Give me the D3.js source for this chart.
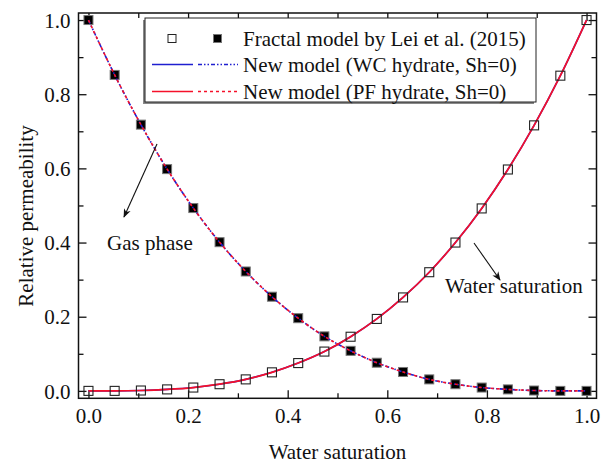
<!DOCTYPE html>
<html>
<head>
<meta charset="utf-8">
<script src="https://cdn.jsdelivr.net/npm/d3@7"></script>
<style>
  body { margin: 0; background: #fff; }
</style>
</head>
<body>
<svg id="chart" width="608" height="463"></svg>
<script>
// water saturation at the sampled points
var sw = [0, 0.0526, 0.1053, 0.1579, 0.2105, 0.2632, 0.3158, 0.3684, 0.4211, 0.4737,
          0.5263, 0.5789, 0.6316, 0.6842, 0.7368, 0.7895, 0.8421, 0.8947, 0.9474, 1.0];

// fractal model (Lei et al. 2015)
var krwFractal = [0.0, 0.0, 0.001, 0.004, 0.009, 0.018, 0.031, 0.050, 0.075, 0.106,
                  0.146, 0.194, 0.252, 0.320, 0.400, 0.492, 0.597, 0.716, 0.850, 1.0];
var krgFractal = [1.0, 0.852, 0.718, 0.598, 0.493, 0.401, 0.322, 0.254, 0.196, 0.147,
                  0.108, 0.076, 0.051, 0.031, 0.018, 0.009, 0.004, 0.001, 0.0, 0.0];

// new model, WC hydrate
var krwWC = [0.0, 0.0, 0.001, 0.004, 0.009, 0.018, 0.031, 0.050, 0.075, 0.106,
             0.146, 0.194, 0.252, 0.320, 0.400, 0.492, 0.597, 0.716, 0.850, 1.0];
var krgWC = [1.0, 0.852, 0.718, 0.598, 0.493, 0.401, 0.322, 0.254, 0.196, 0.147,
             0.108, 0.076, 0.051, 0.031, 0.018, 0.009, 0.004, 0.001, 0.0, 0.0];

// new model, PF hydrate
var krwPF = [0.0, 0.0, 0.001, 0.004, 0.009, 0.018, 0.031, 0.050, 0.075, 0.106,
             0.146, 0.194, 0.252, 0.320, 0.400, 0.492, 0.597, 0.716, 0.850, 1.0];
var krgPF = [1.0, 0.852, 0.718, 0.598, 0.493, 0.401, 0.322, 0.254, 0.196, 0.147,
             0.108, 0.076, 0.051, 0.031, 0.018, 0.009, 0.004, 0.001, 0.0, 0.0];

var majorTicks = [0, 0.2, 0.4, 0.6, 0.8, 1.0];
var minorTicks = [0.1, 0.3, 0.5, 0.7, 0.9];
var legendLabels = ['Fractal model by Lei et al. (2015)',
                    'New model (WC hydrate, Sh=0)',
                    'New model (PF hydrate, Sh=0)'];

var FONT = "'Liberation Serif', 'Times New Roman', serif";
var FS = 21;
var dims = { left: 78.5, right: 596.5, top: 13, bottom: 398.3 };

var svg = d3.select('#chart');
var x = d3.scaleLinear().domain([-0.02, 1.02]).range([dims.left, dims.right]);
var y = d3.scaleLinear().domain([-0.02, 1.019]).range([dims.bottom, dims.top]);

var fmt = d3.format('.1f');

function txt(sel) {
  return sel.style('font-family', FONT).style('font-size', FS + 'px').attr('fill', '#111');
}

// axes: inward ticks on all four sides, labels on bottom and left only
function addAxis(axisFn, transform, labels) {
  var scale = (axisFn === d3.axisBottom || axisFn === d3.axisTop) ? x : y;
  var major = svg.append('g').attr('transform', transform)
    .call(axisFn(scale).tickValues(majorTicks).tickSize(-8).tickPadding(10)
      .tickFormat(labels ? fmt : ''));
  var minor = svg.append('g').attr('transform', transform)
    .call(axisFn(scale).tickValues(minorTicks).tickSize(-5).tickFormat(''));
  [major, minor].forEach(function(g) {
    g.attr('font-family', null).attr('font-size', null);
    g.select('.domain').remove();
    g.selectAll('line').attr('stroke', '#111').attr('stroke-width', 1.3);
    txt(g.selectAll('text'));
  });
  return major;
}
addAxis(d3.axisBottom, 'translate(0,' + dims.bottom + ')', true);
addAxis(d3.axisTop, 'translate(0,' + dims.top + ')', false);
var yl = addAxis(d3.axisLeft, 'translate(' + dims.left + ',0)', true);
yl.selectAll('text').attr('dy', '0.34em').attr('x', -8);
addAxis(d3.axisRight, 'translate(' + dims.right + ',0)', false);

svg.append('rect')
  .attr('x', dims.left).attr('y', dims.top)
  .attr('width', dims.right - dims.left).attr('height', dims.bottom - dims.top)
  .attr('fill', 'none').attr('stroke', '#111').attr('stroke-width', 1.5);

// curves
function lineOf(vals) {
  return d3.line()
    .x(function(d, i) { return x(sw[i]); })
    .y(function(d) { return y(d); })
    .curve(d3.curveMonotoneX)(vals);
}

svg.append('path').attr('d', lineOf(krwWC))
  .attr('fill', 'none').attr('stroke', '#1f1fd0').attr('stroke-width', 1.6);
svg.append('path').attr('d', lineOf(krwPF))
  .attr('fill', 'none').attr('stroke', '#f5102a').attr('stroke-width', 1.7);

// markers
var pts = svg.append('g');
pts.selectAll('.krw').data(krwFractal).enter().append('rect')
  .attr('x', function(d, i) { return x(sw[i]) - 4.5; })
  .attr('y', function(d) { return y(d) - 4.5; })
  .attr('width', 9).attr('height', 9)
  .attr('fill', 'none').attr('stroke', '#222').attr('stroke-width', 1.1);
pts.selectAll('.krg').data(krgFractal).enter().append('rect')
  .attr('x', function(d, i) { return x(sw[i]) - 4.5; })
  .attr('y', function(d) { return y(d) - 4.5; })
  .attr('width', 9).attr('height', 9)
  .attr('fill', '#000').attr('stroke', '#777').attr('stroke-width', 1);

svg.append('path').attr('d', lineOf(krgWC))
  .attr('fill', 'none').attr('stroke', '#1f1fd0').attr('stroke-width', 1.6)
  .attr('stroke-dasharray', '4,2,1.5,2,1.5,2');
svg.append('path').attr('d', lineOf(krgPF))
  .attr('fill', 'none').attr('stroke', '#f5102a').attr('stroke-width', 1.6)
  .attr('stroke-dasharray', '3,3');

// annotations
svg.append('defs').append('marker')
  .attr('id', 'arr').attr('viewBox', '0 0 10 10').attr('refX', 9).attr('refY', 5)
  .attr('markerWidth', 9).attr('markerHeight', 9).attr('orient', 'auto')
  .attr('markerUnits', 'userSpaceOnUse')
  .append('path').attr('d', 'M0,1 L10,5 L0,9 L3,5 Z').attr('fill', '#111');

svg.append('line').attr('x1', 157).attr('y1', 144).attr('x2', 124).attr('y2', 217)
  .attr('stroke', '#111').attr('stroke-width', 1.1).attr('marker-end', 'url(#arr)');
txt(svg.append('text').attr('x', 107).attr('y', 250)).text('Gas phase');

svg.append('line').attr('x1', 474).attr('y1', 243).attr('x2', 500).attr('y2', 280)
  .attr('stroke', '#111').attr('stroke-width', 1.1).attr('marker-end', 'url(#arr)');
txt(svg.append('text').attr('x', 445).attr('y', 293)).text('Water saturation');

// legend
var lg = svg.append('g');
lg.append('rect').attr('x', 143).attr('y', 20).attr('width', 391).attr('height', 84)
  .attr('fill', '#888');
lg.append('rect').attr('x', 145).attr('y', 18).attr('width', 391).attr('height', 84)
  .attr('fill', '#fff').attr('stroke', '#222').attr('stroke-width', 1);

var rows = [38.5, 64.5, 91.5];
lg.append('rect').attr('x', 168).attr('y', rows[0] - 4).attr('width', 8).attr('height', 8)
  .attr('fill', 'none').attr('stroke', '#222').attr('stroke-width', 1);
lg.append('rect').attr('x', 213.5).attr('y', rows[0] - 4).attr('width', 8).attr('height', 8)
  .attr('fill', '#000').attr('stroke', '#777').attr('stroke-width', 1);

var legendColors = ['#1f1fd0', '#f5102a'];
var legendDash = ['4,2,1.5,2,1.5,2', '3,3'];
legendColors.forEach(function(c, i) {
  var yy = rows[i + 1];
  lg.append('line').attr('x1', 152).attr('x2', 193).attr('y1', yy).attr('y2', yy)
    .attr('stroke', c).attr('stroke-width', 1.6);
  lg.append('line').attr('x1', 198).attr('x2', 238).attr('y1', yy).attr('y2', yy)
    .attr('stroke', c).attr('stroke-width', 1.6).attr('stroke-dasharray', legendDash[i]);
});
legendLabels.forEach(function(t, i) {
  txt(lg.append('text').attr('x', 243).attr('y', rows[i] + 7.5)).text(t);
});

// axis titles
txt(svg.append('text').attr('x', (dims.left + dims.right) / 2).attr('y', 459)
  .attr('text-anchor', 'middle')).text('Water saturation');
txt(svg.append('text').attr('transform', 'translate(33,216) rotate(-90)')
  .attr('text-anchor', 'middle')).text('Relative permeability');
</script>
</body>
</html>
